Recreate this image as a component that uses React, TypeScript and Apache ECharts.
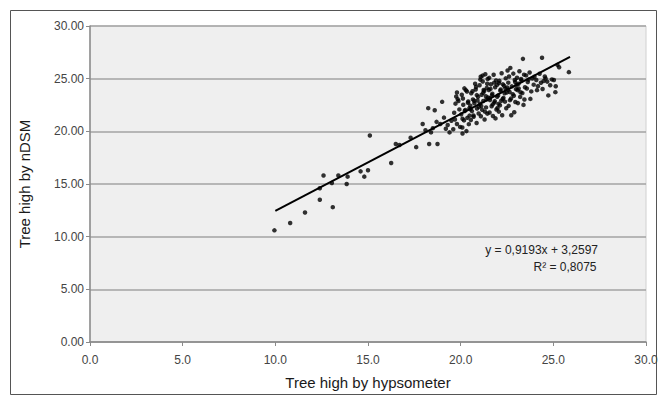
import React, { useEffect, useRef } from "react";
import * as echarts from "echarts";

const xTickLabels = ["0.0", "5.0", "10.0", "15.0", "20.0", "25.0", "30.0"];
const yTickLabels = ["0.00", "5.00", "10.00", "15.00", "20.00", "25.00", "30.00"];

const sparsePoints: [number, number][] = [
  [9.95, 10.6], [10.8, 11.3], [11.6, 12.3], [12.4, 13.5], [12.4, 14.6], [12.6, 15.8],
  [13.05, 15.1], [13.1, 12.8], [13.4, 15.8], [13.85, 15.0], [13.9, 15.7], [14.6, 16.2],
  [14.8, 15.7], [15.0, 16.3], [15.1, 19.6], [16.25, 17.0], [16.5, 18.8], [16.7, 18.7],
  [17.3, 19.4], [17.6, 18.5], [17.95, 20.7], [18.25, 22.2], [18.3, 18.8], [18.4, 19.9],
  [18.6, 22.0], [18.75, 18.8], [18.7, 20.9], [18.9, 20.7], [19.0, 22.8], [19.2, 20.25],
  [19.3, 20.6], [19.4, 19.9], [19.6, 20.2], [19.8, 20.7], [20.1, 19.8], [20.1, 21.2],
  [18.5, 20.3], [19.1, 21.3], [19.5, 21.0], [18.1, 20.1],
];

const clusterPoints: [number, number][] = [
  [19.72, 22.63], [19.93, 22.08], [19.65, 21.76], [19.84, 23.04], [19.76, 23.31], [19.97, 20.42],
  [19.69, 21.13], [19.88, 22.88], [19.8, 23.68],
  [20.28, 23.91], [20.06, 23.47], [20.41, 22.83], [20.14, 22.52], [20.47, 22.19], [20.22, 21.93],
  [20.03, 21.61], [20.36, 21.28], [20.18, 21.04], [20.44, 20.68], [20.09, 20.37], [20.31, 20.02],
  [20.25, 22.03], [20.12, 23.12], [20.39, 22.71], [20.48, 21.49], [20.2, 24.08], [20.34, 23.78],
  [20.83, 24.22], [20.57, 23.61], [20.94, 23.29], [20.66, 23.03], [20.74, 22.67], [20.52, 22.44],
  [20.88, 22.16], [20.61, 21.92], [20.97, 21.69], [20.7, 21.38], [20.55, 21.07], [20.86, 20.79],
  [20.78, 24.52], [20.64, 23.81], [20.91, 22.93], [20.53, 22.09], [20.69, 21.51], [20.81, 23.97],
  [21.33, 25.42], [21.08, 25.18], [21.46, 24.97], [21.19, 24.73], [21.02, 24.38], [21.41, 24.12],
  [21.27, 23.84], [21.13, 23.47], [21.48, 23.21], [21.22, 22.88], [21.04, 22.62], [21.37, 22.27],
  [21.16, 22.04], [21.44, 21.68], [21.09, 21.43], [21.29, 21.12], [21.06, 24.91], [21.24, 23.93],
  [21.39, 23.02], [21.11, 22.41], [21.31, 21.87], [21.18, 25.29],
  [21.78, 25.37], [21.54, 25.08], [21.91, 24.83], [21.63, 24.47], [21.86, 24.18], [21.52, 23.92],
  [21.71, 23.57], [21.97, 23.28], [21.58, 22.98], [21.82, 22.73], [21.67, 22.38], [21.93, 22.07],
  [21.56, 21.79], [21.74, 21.46], [21.88, 21.23], [21.61, 24.03], [21.69, 23.42], [21.84, 22.87],
  [21.99, 22.21],
  [22.21, 25.52], [22.43, 25.03], [22.07, 24.58], [22.34, 24.33], [22.16, 23.97], [22.48, 23.68],
  [22.02, 23.41], [22.27, 23.07], [22.39, 22.82], [22.12, 22.48], [22.46, 22.19], [22.24, 21.53],
  [22.09, 24.79], [22.37, 23.62], [22.31, 23.18], [22.04, 22.61],
  [22.68, 26.02], [22.53, 25.77], [22.84, 25.48], [22.61, 25.21], [22.92, 24.88], [22.57, 24.62],
  [22.76, 24.27], [22.98, 24.01], [22.64, 23.73], [22.87, 23.38], [22.72, 23.12], [22.95, 22.79],
  [22.59, 22.42], [22.89, 21.81], [22.73, 21.52], [22.51, 24.17], [22.81, 23.53],
  [23.36, 26.88], [23.17, 25.71], [23.42, 25.38], [23.04, 25.09], [23.28, 24.83], [23.12, 24.52],
  [23.47, 24.18], [23.07, 23.91], [23.33, 23.63], [23.21, 23.27], [23.44, 23.02], [23.09, 22.68],
  [23.39, 22.51], [23.26, 24.97], [23.01, 24.41],
  [23.72, 25.58], [23.53, 25.31], [23.87, 25.02], [23.62, 24.69], [23.94, 24.43], [23.57, 24.07],
  [23.81, 23.79], [23.76, 23.08], [23.66, 24.91], [23.98, 25.19],
  [24.08, 24.88], [24.33, 24.61], [24.17, 24.29], [24.42, 24.02], [24.39, 26.98], [24.26, 25.47],
  [24.12, 23.91], [24.47, 24.77],
  [24.58, 25.02], [24.83, 24.38], [24.67, 24.72], [24.73, 23.41], [24.92, 24.93], [24.54, 25.21],
  [25.22, 26.31], [25.84, 25.62], [25.13, 24.28], [25.11, 23.72], [25.03, 24.87], [25.31, 26.08],
  [21.57, 23.15], [21.22, 23.66], [22.14, 23.86], [22.56, 23.94], [21.96, 24.41], [21.43, 24.52],
  [22.28, 24.46], [20.99, 22.31], [22.66, 22.96], [21.73, 22.56], [22.19, 22.91], [21.36, 23.33],
  [22.41, 24.08], [20.87, 23.44], [23.13, 24.06], [22.94, 24.68], [21.81, 24.62], [20.73, 22.91],
  [22.06, 21.87], [23.23, 23.71],
];

const trendLine: [number, number][] = [
  [10.0, 12.45],
  [25.9, 27.07],
];

const equationText = "y = 0,9193x + 3,2597";
const r2Text = "R² = 0,8075";
const xAxisName = "Tree high by hypsometer";
const yAxisName = "Tree high by nDSM";

export default function App() {
  const ref = useRef<HTMLDivElement>(null);
  useEffect(() => {
    if (!ref.current) return;
    const chart = echarts.init(ref.current, undefined, { renderer: "svg" });
    const font = "Liberation Sans, Arial, sans-serif";
    chart.setOption({
      animation: false,
      backgroundColor: "#ffffff",
      textStyle: { fontFamily: font },
      grid: {
        left: 90,
        right: 15,
        top: 26,
        bottom: 54,
        show: true,
        backgroundColor: "#efefef",
        borderColor: "#d0d0d0",
        borderWidth: 1,
      },
      xAxis: {
        type: "value",
        min: 0,
        max: 30,
        interval: 5,
        name: xAxisName,
        nameLocation: "middle",
        nameGap: 33,
        nameTextStyle: { fontSize: 15, color: "#1a1a1a", fontFamily: font },
        axisLine: { show: true, lineStyle: { color: "#8a8a8a", width: 1.5 } },
        axisTick: { show: true, length: 4, lineStyle: { color: "#8a8a8a" } },
        axisLabel: {
          fontSize: 12,
          color: "#444",
          margin: 12,
          formatter: (v: number) => xTickLabels[Math.round(v / 5)] ?? "",
        },
        splitLine: { show: false },
      },
      yAxis: {
        type: "value",
        min: 0,
        max: 30,
        interval: 5,
        name: yAxisName,
        nameLocation: "middle",
        nameGap: 58,
        nameRotate: 90,
        nameTextStyle: { fontSize: 15, color: "#1a1a1a", fontFamily: font },
        axisLine: { show: true, lineStyle: { color: "#8a8a8a", width: 1.5 } },
        axisTick: { show: true, length: 4, lineStyle: { color: "#8a8a8a" } },
        axisLabel: {
          fontSize: 12,
          color: "#444",
          margin: 6,
          formatter: (v: number) => yTickLabels[Math.round(v / 5)] ?? "",
        },
        splitLine: { show: true, lineStyle: { color: "#a3a3a3", width: 1.5 } },
      },
      graphic: [
        {
          type: "rect",
          shape: { x: 10.5, y: 10.5, width: 646, height: 384 },
          style: { fill: "none", stroke: "#555", lineWidth: 1 },
          silent: true,
        },
        {
          type: "text",
          x: 598,
          y: 250,
          style: {
            text: equationText,
            fill: "#222",
            font: "12px Liberation Sans, Arial, sans-serif",
            textAlign: "right",
            textVerticalAlign: "middle",
          },
        },
        {
          type: "text",
          x: 565,
          y: 267,
          style: {
            text: r2Text,
            fill: "#222",
            font: "12px Liberation Sans, Arial, sans-serif",
            textAlign: "center",
            textVerticalAlign: "middle",
          },
        },
      ],
      series: [
        {
          type: "scatter",
          data: [...sparsePoints, ...clusterPoints],
          symbol: "circle",
          symbolSize: 4.5,
          itemStyle: { color: "#000" },
          z: 3,
        },
        {
          type: "line",
          data: trendLine,
          symbol: "none",
          lineStyle: { color: "#000", width: 2 },
          z: 4,
        },
      ],
    });
    return () => chart.dispose();
  }, []);
  return <div ref={ref} style={{ width: 661, height: 396, position: "absolute", left: 0, top: 0 }} />;
}
